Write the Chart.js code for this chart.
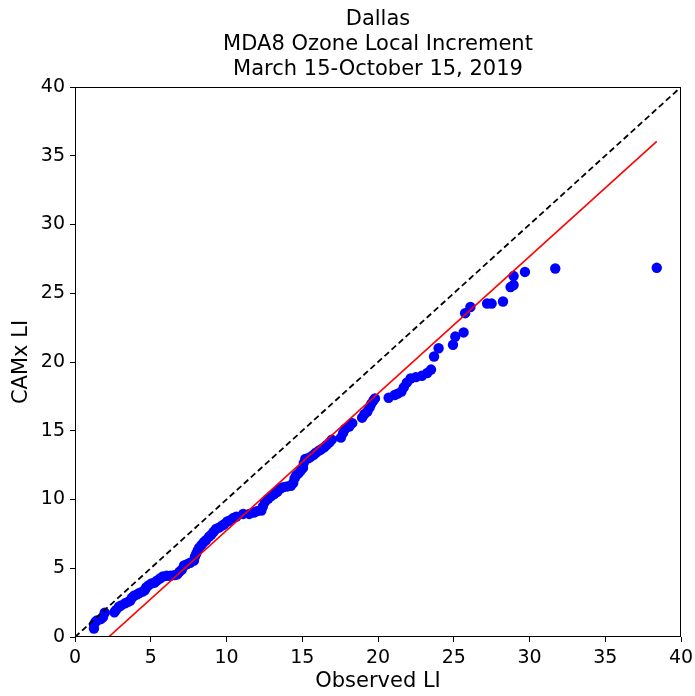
<!DOCTYPE html>
<html>
<head>
<meta charset="utf-8">
<script src="https://cdn.jsdelivr.net/npm/chart.js@4/dist/chart.umd.min.js"></script>
<style>
  html, body { margin: 0; padding: 0; background: #fff; }
  canvas { display: block; }
</style>
</head>
<body>
<canvas id="qqChart" width="695" height="696"></canvas>
<script>
// sorted observed vs sorted CAMx local increment (ppb)
const observedLI = [
  1.25, 1.25, 1.35, 1.45, 1.70, 1.85, 1.96, 2.60, 2.70, 2.90,
  3.05, 3.30, 3.50, 3.65, 3.75, 3.90, 4.10, 4.25, 4.45, 4.60,
  4.70, 4.85, 5.05, 5.25, 5.40, 5.60, 5.80, 6.05, 6.30, 6.55,
  6.75, 6.90, 7.05, 7.20, 7.40, 7.60, 7.85, 7.92, 8.00, 8.10,
  8.20, 8.35, 8.50, 8.65, 8.85, 9.00, 9.15, 9.30, 9.50, 9.70,
  9.85, 10.05, 10.25, 10.45, 10.65, 11.10, 11.50, 11.80, 12.00, 12.30,
  12.40, 12.55, 12.75, 12.95, 13.15, 13.35, 13.55, 13.75, 14.00, 14.25,
  14.40, 14.50, 14.60, 14.75, 14.90, 15.05, 15.10, 15.20, 15.40, 15.55,
  15.75, 15.90, 16.10, 16.25, 16.45, 16.60, 16.80, 16.95, 17.55, 17.70,
  17.85, 18.10, 18.30, 18.95, 19.10, 19.30, 19.45, 19.55, 19.70, 19.80,
  20.70, 21.10, 21.30, 21.55, 21.70, 21.90, 22.15, 22.50, 22.90, 23.25,
  23.50, 23.70, 24.00, 24.95, 25.10, 25.65, 25.75, 26.10, 27.20, 27.50,
  28.25, 28.75, 28.95, 28.95, 29.70, 31.70, 38.40
];
const camxLI = [
  0.61, 0.92, 1.10, 1.20, 1.30, 1.45, 1.76, 1.80, 1.95, 2.20,
  2.30, 2.45, 2.55, 2.65, 2.85, 3.00, 3.10, 3.20, 3.30, 3.40,
  3.60, 3.75, 3.90, 3.95, 4.10, 4.25, 4.40, 4.45, 4.45, 4.50,
  4.55, 4.75, 4.90, 5.20, 5.30, 5.40, 5.55, 5.85, 6.05, 6.30,
  6.50, 6.70, 6.90, 7.05, 7.30, 7.45, 7.65, 7.85, 7.95, 8.10,
  8.20, 8.40, 8.50, 8.65, 8.75, 8.95, 8.95, 9.05, 9.15, 9.20,
  9.50, 9.85, 10.05, 10.25, 10.40, 10.55, 10.80, 10.90, 10.95, 11.00,
  11.20, 11.55, 11.75, 11.90, 12.10, 12.30, 12.65, 12.95, 13.00, 13.10,
  13.25, 13.40, 13.55, 13.65, 13.80, 13.95, 14.15, 14.35, 14.50, 14.85,
  15.15, 15.30, 15.55, 15.95, 16.20, 16.40, 16.70, 16.95, 17.20, 17.35,
  17.40, 17.60, 17.70, 17.85, 18.15, 18.50, 18.80, 18.90, 19.00, 19.20,
  19.45, 20.40, 21.00, 21.25, 21.85, 22.15, 23.55, 24.00, 24.25, 24.25,
  24.40, 25.45, 25.60, 26.25, 26.55, 26.80, 26.85
];

// 1:1 reference line and the red fit line (end points)
const oneToOneX = [0, 40];
const oneToOneY = [0, 40];
const fitX = [1.25, 38.40];
const fitY = [-0.97, 36.05];

const axisTicks = [0, 5, 10, 15, 20, 25, 30, 35, 40];

const titleLines = ["Dallas", "MDA8 Ozone Local Increment", "March 15-October 15, 2019"];

const toPoints = (xs, ys) => xs.map((x, i) => ({ x: x, y: ys[i] }));

// matplotlib centres the title over the axes, not the whole figure
const plotTitle = {
  id: "plotTitle",
  afterDraw(chart) {
    const a = chart.chartArea;
    const ctx = chart.ctx;
    const cx = (a.left + a.right) / 2;
    ctx.save();
    ctx.fillStyle = "#000";
    ctx.font = "21px 'DejaVu Sans', sans-serif";
    ctx.textAlign = "center";
    ctx.textBaseline = "middle";
    titleLines.forEach((line, i) => {
      ctx.fillText(line, cx, a.top - 67 + i * 25);
    });
    ctx.restore();
  }
};

const frameBox = {
  id: "frameBox",
  afterDraw(chart) {
    const a = chart.chartArea;
    const ctx = chart.ctx;
    ctx.save();
    ctx.strokeStyle = "#000";
    ctx.lineWidth = 1;
    ctx.strokeRect(Math.round(a.left) + 0.5, Math.round(a.top) + 0.5,
      Math.round(a.right - a.left) - 1, Math.round(a.bottom - a.top) - 1);
    ctx.restore();
  }
};

Chart.defaults.font.family = "'DejaVu Sans', sans-serif";
Chart.defaults.color = "#000";

const tickOpts = {
  stepSize: 5,
  padding: 5,
  font: { size: 19 },
  callback: (v) => axisTicks.includes(v) ? String(v) : ""
};
const gridOpts = {
  drawOnChartArea: false,
  drawTicks: true,
  tickLength: 5,
  tickColor: "#000",
  tickWidth: 1
};

new Chart(document.getElementById("qqChart"), {
  type: "scatter",
  data: {
    datasets: [
      {
        label: "1:1",
        data: toPoints(oneToOneX, oneToOneY),
        showLine: true,
        borderColor: "#000",
        borderWidth: 1.8,
        borderDash: [6, 3.5],
        pointRadius: 0,
        order: 1
      },
      {
        label: "fit",
        data: toPoints(fitX, fitY),
        showLine: true,
        borderColor: "#ff0000",
        borderWidth: 1.6,
        pointRadius: 0,
        order: 2
      },
      {
        label: "LI",
        data: toPoints(observedLI, camxLI),
        backgroundColor: "#0000ff",
        borderWidth: 0,
        pointRadius: 5.2,
        order: 3
      }
    ]
  },
  options: {
    responsive: false,
    animation: false,
    layout: { padding: { left: 0, right: 14, top: 87, bottom: 0 } },
    plugins: {
      legend: { display: false },
      tooltip: { enabled: false },
      title: { display: false }
    },
    scales: {
      x: {
        type: "linear",
        min: 0,
        max: 40,
        ticks: tickOpts,
        grid: gridOpts,
        border: { display: false },
        title: {
          display: true,
          text: "Observed LI",
          font: { size: 21, lineHeight: 1.2 },
          padding: { top: 0, bottom: 1.4 }
        },
        afterFit(scale) {
          scale.height = 59;
          scale.paddingLeft = 0;
          scale.paddingRight = 0;
        }
      },
      y: {
        type: "linear",
        min: 0,
        max: 40,
        ticks: tickOpts,
        grid: gridOpts,
        border: { display: false },
        title: {
          display: true,
          text: "CAMx LI",
          font: { size: 21, lineHeight: 1.2 },
          padding: { top: 9.4, bottom: 0 }
        },
        afterFit(scale) { scale.width = 75; }
      }
    }
  },
  plugins: [plotTitle, frameBox]
});
</script>
</body>
</html>
